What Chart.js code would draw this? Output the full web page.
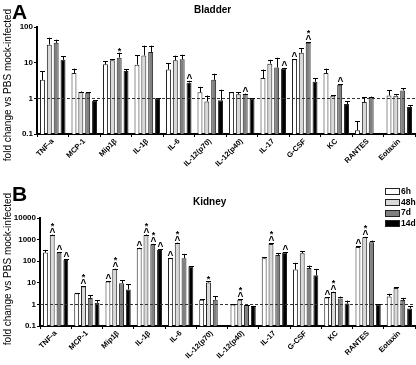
<!DOCTYPE html>
<html><head><meta charset="utf-8">
<script src="https://cdn.jsdelivr.net/npm/chart.js@4/dist/chart.umd.min.js"></script>
<style>
body{margin:0;background:#fff;width:416px;height:365px;overflow:hidden;position:relative;font-family:"Liberation Sans",Arial,sans-serif;}
canvas{position:absolute;left:0;}
.t{position:absolute;font-weight:bold;color:#000;white-space:nowrap;line-height:1;}
.yl{position:absolute;width:170px;height:12px;line-height:12px;text-align:center;font-size:10px;color:#000;transform:rotate(-90deg);white-space:nowrap;}
.lg{position:absolute;left:385px;font-size:8.5px;font-weight:bold;line-height:8px;white-space:nowrap;}
.lg span{display:inline-block;width:13px;height:5px;border:1px solid #222;vertical-align:middle;margin-right:1px;}
</style></head><body>
<canvas id="ca" width="416" height="180" style="top:0"></canvas>
<canvas id="cb" width="416" height="185" style="top:180px"></canvas>
<div class="t" style="left:12px;top:1px;font-size:21px">A</div>
<div class="t" style="left:12px;top:183px;font-size:21px">B</div>
<div class="t" style="left:194px;top:5px;font-size:10px">Bladder</div>
<div class="t" style="left:193px;top:197px;font-size:10px">Kidney</div>
<div class="yl" style="left:-77px;top:79px">fold change vs PBS mock-infected</div>
<div class="yl" style="left:-77px;top:263px">fold change vs PBS mock-infected</div>
<div id="legend"></div>
<script>
const categories = ["TNF-a","MCP-1","Mip1\u03B2","IL-1\u03B2","IL-6","IL-12(p70)","IL-12(p40)","IL-17","G-CSF","KC","RANTES","Eotaxin"];
const seriesNames = ["6h","48h","7d","14d"];
const seriesColors = ["#ffffff","#d9d9d9","#808080","#000000"];

// Bladder (panel A)
const bladder6h   = [3.3, 5.1, 9.0, 8.8, 6.4, 1.47, 1.47, 3.7, 12.4, 5.1, 0.127, 1.2];
const bladder6hErr= [5.7, 6.8, 11, 16, 9.8, 2.1, 1.5, 6.4, 12.6, 6.8, 0.23, 1.67];
const bladder48h   = [32, 1.5, 11.7, 16, 11.6, 0.82, 1.3, 9.4, 19, 1.19, 0.79, 1.19];
const bladder48hErr= [50, 1.55, 12.5, 30, 15.7, 1.2, 1.5, 12, 25, 1.22, 1.07, 1.3];
const bladder7d   = [36, 1.44, 13.8, 20, 12.4, 3.3, 1.32, 7.3, 36, 2.4, 1.09, 1.67];
const bladder7dErr= [44, 1.48, 19, 30, 16.7, 4.9, 1.35, 13.8, 37, 2.45, 1.12, 1.95];
const bladder14d   = [12, 0.86, 5.8, 1.0, 2.75, 0.88, 0.98, 6.8, 2.9, 0.69, null, 0.57];
const bladder14dErr= [15, 0.88, 6.6, 1.0, 3.1, 1.75, 1.0, 7.1, 3.6, 0.82, null, 0.64];
const bladderMarks6h  = ["","","","","","","","","^","","",""];
const bladderMarks48h = ["","","","","","","","","","","",""];
const bladderMarks7d  = ["","","*","","","","^","","^*","^","",""];
const bladderMarks14d = ["","","","","^","","","^","","","",""];
const bladderTicks = [0.1, 1, 10, 100];

// Kidney (panel B)
const kidney6h   = [252, 3.3, 11.5, 400, 137, 1.64, 1.0, 137, 41, 2.1, 460, 2.34];
const kidney6hErr= [333, 3.4, 11.8, 420, 142, 1.7, 1.02, 150, 84, 2.15, 480, 3.1];
const kidney48h   = [1650, 6.8, 43, 1650, 700, 10.4, 1.64, 630, 235, 3.7, 1280, 5.7];
const kidney48hErr= [1720, 7.0, 45, 1720, 730, 11.5, 1.7, 660, 290, 3.85, 1330, 6.1];
const kidney7d   = [252, 2.0, 9.6, 590, 137, 1.64, 0.93, 195, 48, 1.9, 755, 1.6];
const kidney7dErr= [260, 2.6, 13, 610, 218, 2.4, 0.95, 240, 63, 2.3, 900, 2.0];
const kidney14d   = [115, 1.19, 4.9, 333, 57, null, 0.84, 250, 22.6, 1.1, 1.0, 0.65];
const kidney14dErr= [120, 1.6, 8.7, 350, 60, null, 0.86, 260, 44, 1.5, 1.0, 0.8];
const kidneyMarks6h  = ["","","^","^","^","","","","","^","^",""];
const kidneyMarks48h = ["^*","^*","^*","^*","^*","*","^*","^*","","^*","^*",""];
const kidneyMarks7d  = ["^","","","^*","","","","","","","",""];
const kidneyMarks14d = ["^","","","^","","","","^","","","",""];
const kidneyTicks = [0.1, 1, 10, 100, 1000, 10000];

const FONT = '"Liberation Sans", Arial, sans-serif';

const extras = {
  id: 'extras',
  afterDatasetsDraw(chart) {
    const ctx = chart.ctx, y = chart.scales.y, area = chart.chartArea;
    const y1 = Math.round(y.getPixelForValue(1)) + 0.5;
    ctx.save();
    ctx.strokeStyle = '#333'; ctx.lineWidth = 1; ctx.setLineDash([3, 2]);
    ctx.beginPath(); ctx.moveTo(area.left, y1); ctx.lineTo(area.right, y1); ctx.stroke();
    ctx.setLineDash([]);
    ctx.strokeStyle = '#000';
    chart.data.datasets.forEach((ds, i) => {
      const meta = chart.getDatasetMeta(i);
      meta.data.forEach((bar, j) => {
        const v = ds.data[j];
        if (v == null) return;
        const e = ds.err[j];
        const x = Math.round(bar.x) + 0.5;
        const top = bar.y;
        let et = top;
        if (e != null) et = Math.min(top, y.getPixelForValue(e));
        ctx.beginPath();
        ctx.moveTo(x, top); ctx.lineTo(x, et);
        const cy = Math.round(et) + 0.5;
        ctx.moveTo(x - 2.5, cy); ctx.lineTo(x + 2.5, cy);
        ctx.stroke();
        const m = ds.marks[j];
        if (m) {
          ctx.fillStyle = '#000';
          ctx.textAlign = 'center';
          ctx.textBaseline = 'alphabetic';
          let base = et;
          for (const ch of m) {
            if (ch === '^') {
              ctx.font = 'bold 10px ' + FONT;
              ctx.fillText('^', x, base + 1);
              base -= 7;
            } else {
              ctx.font = 'bold 9px ' + FONT;
              ctx.fillText('*', x, base + 1);
              base -= 7;
            }
          }
        }
      });
    });
    ctx.restore();
  }
};

function makeChart(id, vals, errs, marks, yMax, yTicks, padTop, yWidth, xHeight) {
  const datasets = seriesNames.map((n, i) => ({
    label: n, data: vals[i], err: errs[i], marks: marks[i],
    backgroundColor: seriesColors[i], borderColor: '#222', borderWidth: 1,
    barPercentage: 0.72, categoryPercentage: 0.87
  }));
  return new Chart(document.getElementById(id), {
    type: 'bar',
    data: { labels: categories, datasets },
    plugins: [extras],
    options: {
      responsive: false, animation: false,
      layout: { padding: { top: padTop, left: 0, right: 1, bottom: 0 } },
      plugins: { legend: { display: false }, tooltip: { enabled: false } },
      scales: {
        x: {
          grid: { display: true, drawOnChartArea: false, drawTicks: true, tickLength: 3, color: '#000' },
          border: { color: '#000', width: 2 },
          ticks: { color: '#000', font: { family: FONT, size: 7.5, weight: 'bold' }, minRotation: 45, maxRotation: 45, autoSkip: false, padding: 0 },
          afterFit: s => { s.height = xHeight; }
        },
        y: {
          type: 'logarithmic', min: 0.1, max: yMax,
          grid: { display: true, drawOnChartArea: false, drawTicks: true, tickLength: 3, color: '#000' },
          border: { color: '#000', width: 2 },
          afterBuildTicks: s => { s.ticks = yTicks.map(v => ({ value: v })); },
          ticks: { color: '#000', font: { family: FONT, size: 8, weight: 'bold' }, padding: 1,
                   callback: v => String(v) },
          afterFit: s => { s.width = yWidth; }
        }
      }
    }
  });
}

makeChart('ca',
  [bladder6h, bladder48h, bladder7d, bladder14d],
  [bladder6hErr, bladder48hErr, bladder7dErr, bladder14dErr],
  [bladderMarks6h, bladderMarks48h, bladderMarks7d, bladderMarks14d],
  100, bladderTicks, 27, 37, 46);
makeChart('cb',
  [kidney6h, kidney48h, kidney7d, kidney14d],
  [kidney6hErr, kidney48hErr, kidney7dErr, kidney14dErr],
  [kidneyMarks6h, kidneyMarks48h, kidneyMarks7d, kidneyMarks14d],
  10000, kidneyTicks, 38, 40, 39);

const lg = document.getElementById('legend');
seriesNames.forEach((n, i) => {
  const d = document.createElement('div');
  d.className = 'lg';
  d.style.top = (187 + i * 10.7) + 'px';
  d.innerHTML = '<span style="background:' + seriesColors[i] + '"></span>' + n;
  lg.appendChild(d);
});
</script>
</body></html>
